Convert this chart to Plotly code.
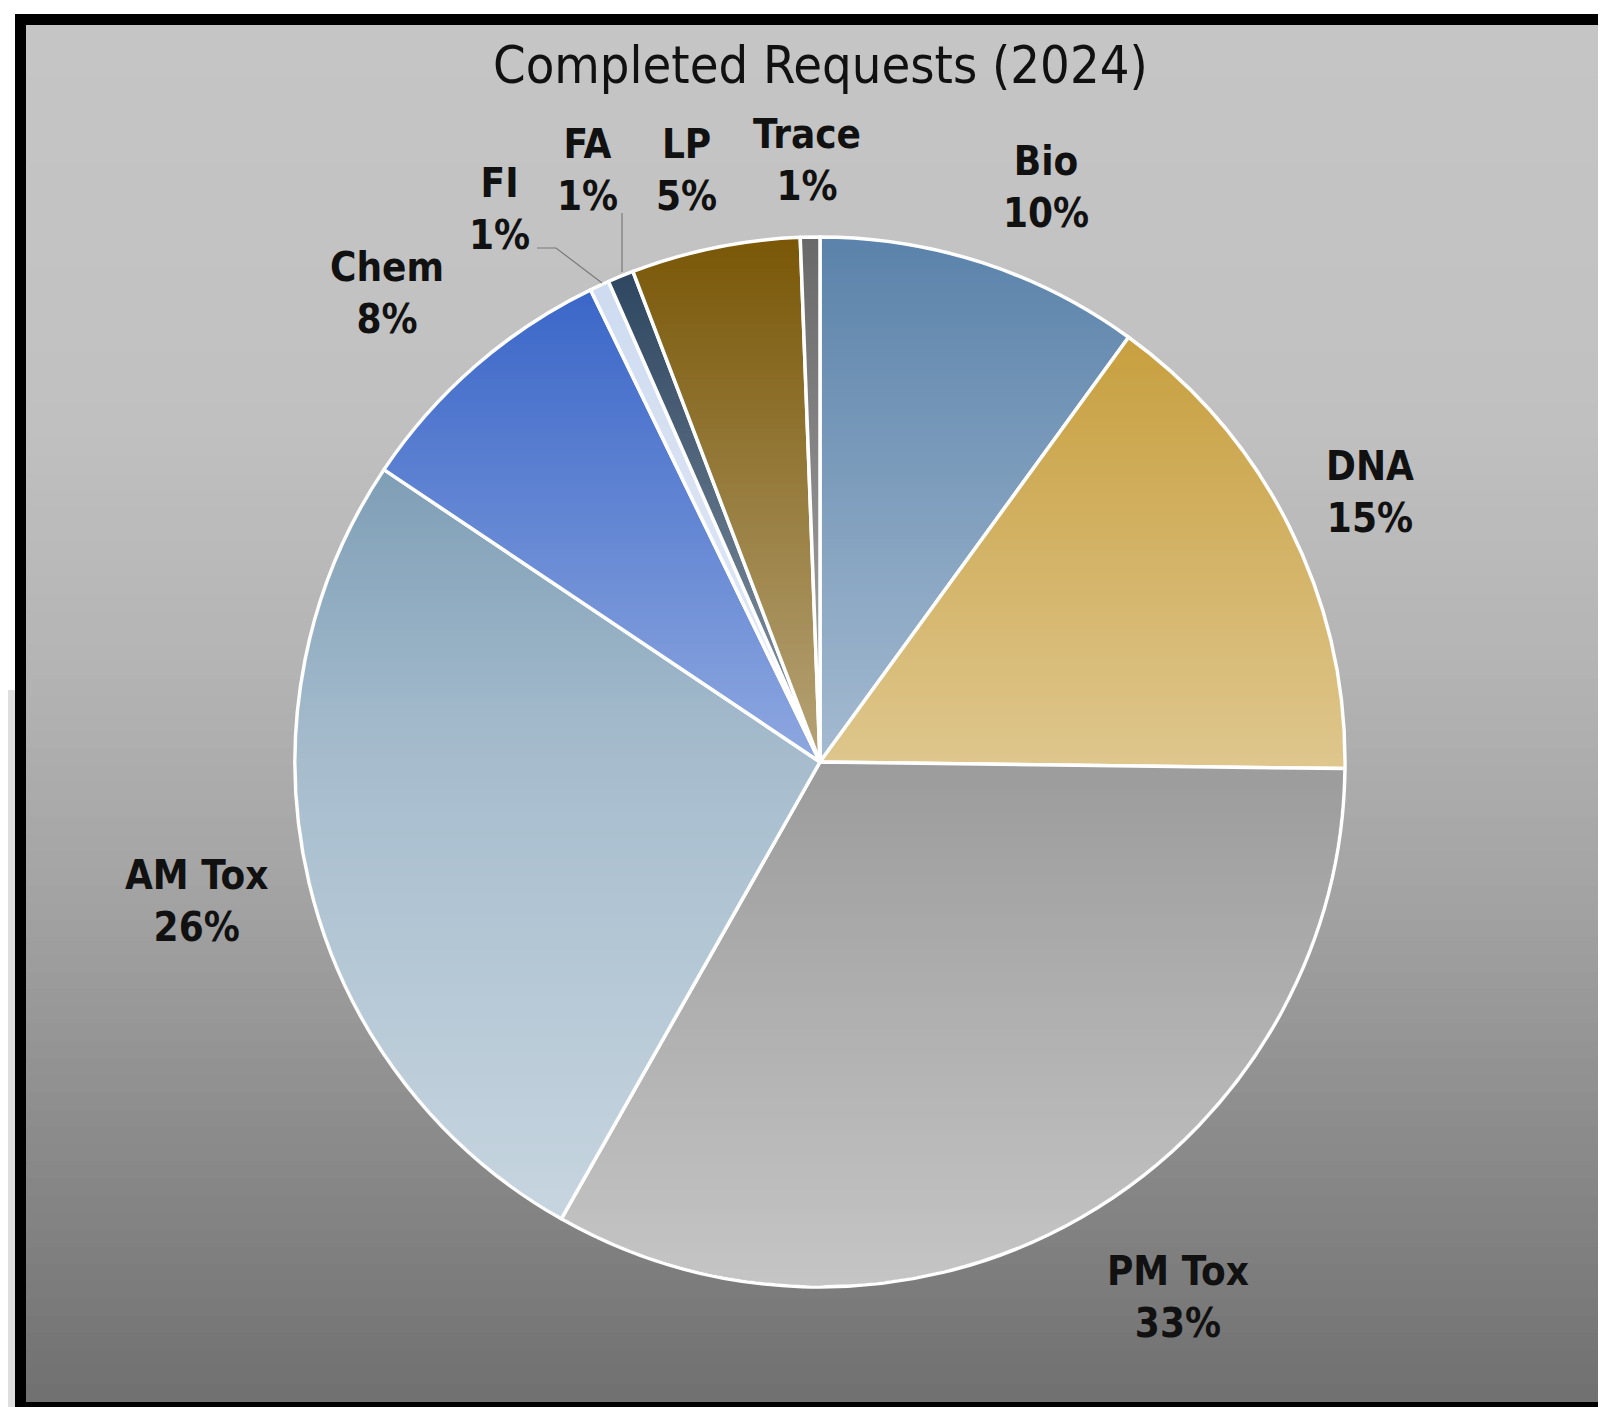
import plotly.graph_objects as go
import numpy as np

# ---------------- data ----------------
labels = ["Bio", "DNA", "PM Tox", "AM Tox", "Chem", "FI", "FA", "LP", "Trace"]
values = [10.0, 15.2, 33.0, 26.2, 8.4, 0.6, 0.8, 5.2, 0.6]
title_text = "Completed Requests (2024)"

# ---------------- styles ----------------
slice_colors = ["#5b83ab", "#c3972e", "#4b4b4b", "#5f87a5", "#3260c6",
                "#cddaf0", "#28415c", "#7a5808", "#696969"]
# label centre positions (pixels in the page) – layout only
label_pos = [(1046, 187), (1370, 492), (1178, 1297), (196, 901), (387, 293),
             (500, 209), (587, 170), (686, 170), (807, 160)]

PAGE_W, PAGE_H = 1606, 1407
OFF = 8                      # default body margin of the html page
W, H = PAGE_W - OFF, PAGE_H - OFF
CX, CY, R = 820, 762, 525


def px(x):
    return (x - OFF) / W


def py(y):
    return 1 - (y - OFF) / H


fig = go.Figure()
fig.add_trace(go.Pie(
    labels=labels, values=values, sort=False, direction="clockwise",
    rotation=0, textinfo="none", hoverinfo="label+percent",
    marker=dict(colors=slice_colors, line=dict(color="white", width=3.5)),
    domain=dict(x=[px(CX - R), px(CX + R)], y=[py(CY + R), py(CY - R)]),
    showlegend=False,
))

shapes = []
# area left of the frame
shapes.append(dict(type="rect", xref="paper", yref="paper", layer="below",
                   x0=0, x1=px(15), y0=0, y1=py(690),
                   fillcolor="#dedede", line=dict(width=0)))

# background vertical gradient inside the frame
stops_y = [25, 400, 650, 900, 1150, 1402]
stops_v = [197, 193, 181, 163, 138, 112]
n_strips = 80
edges = np.linspace(25, 1402, n_strips + 1)
for i in range(n_strips):
    y0, y1 = edges[i], edges[i + 1]
    v = int(round(np.interp((y0 + y1) / 2, stops_y, stops_v)))
    shapes.append(dict(type="rect", xref="paper", yref="paper", layer="below",
                       x0=px(26), x1=1, y0=py(min(y1 + 1, 1402)), y1=py(y0),
                       fillcolor=f"rgb({v},{v},{v})", line=dict(width=0)))

# black frame
for (x0, y0, x1, y1) in [(15, 14, 26, PAGE_H), (15, 14, PAGE_W, 25),
                         (15, 1402, PAGE_W, PAGE_H)]:
    shapes.append(dict(type="rect", xref="paper", yref="paper", layer="below",
                       x0=px(x0), x1=px(x1), y0=py(y1), y1=py(y0),
                       fillcolor="black", line=dict(width=0)))

# soft vertical lightening over the pie (imitates gradient fill):
# non-overlapping, pixel-aligned bands, each a single translucent white layer
g_y = [CY - R, CY, CY + R]
g_t = [0.0, 0.45, 0.68]
Rr = R - 1.5
band_h = 5
y_top = int(np.ceil(CY - Rr))
y_bot = int(np.floor(CY + Rr))
for y0 in range(y_top, y_bot, band_h):
    y1 = min(y0 + band_h, y_bot)
    t = float(np.interp((y0 + y1) / 2, g_y, g_t))
    if t <= 0.004:
        continue
    ys = np.linspace(y0, y1, 6)
    half = np.sqrt(np.clip(Rr ** 2 - (ys - CY) ** 2, 0, None))
    right = [(CX + h, y) for h, y in zip(half, ys)]
    left = [(CX - h, y) for h, y in zip(half[::-1], ys[::-1])]
    pts = right + left
    path = "M " + " L ".join(f"{px(x):.6f},{py(y):.6f}" for x, y in pts) + " Z"
    shapes.append(dict(type="path", xref="paper", yref="paper", layer="above",
                       path=path, fillcolor="rgb(255,255,255)", opacity=t,
                       line=dict(width=0)))

# leader lines for the small slices
for pts in [[(537, 248), (556, 248), (602, 283)], [(622, 213), (622, 272)]]:
    path = "M " + " L ".join(f"{px(x):.5f},{py(y):.5f}" for x, y in pts)
    shapes.append(dict(type="path", xref="paper", yref="paper", layer="above",
                       path=path, line=dict(color="#7a7a7a", width=1.2)))

FONT = "DejaVu Sans Condensed, DejaVu Sans"
annotations = [dict(text=title_text, x=px(820), y=py(65), xref="paper",
                    yref="paper", showarrow=False, xanchor="center",
                    yanchor="middle",
                    font=dict(family=FONT, size=52, color="#111111"))]
total = sum(values)
for lab, val, (lx, ly) in zip(labels, values, label_pos):
    annotations.append(dict(
        text=f"{lab}<br>{round(100 * val / total):d}%",
        x=px(lx), y=py(ly), xref="paper", yref="paper", showarrow=False,
        xanchor="center", yanchor="middle", align="center",
        font=dict(family=FONT, size=40, color="#111111", weight="bold")))

fig.update_layout(width=W, height=H, margin=dict(l=0, r=0, t=0, b=0),
                  paper_bgcolor="white", plot_bgcolor="white",
                  shapes=shapes, annotations=annotations)
fig.write_html("out.html")
